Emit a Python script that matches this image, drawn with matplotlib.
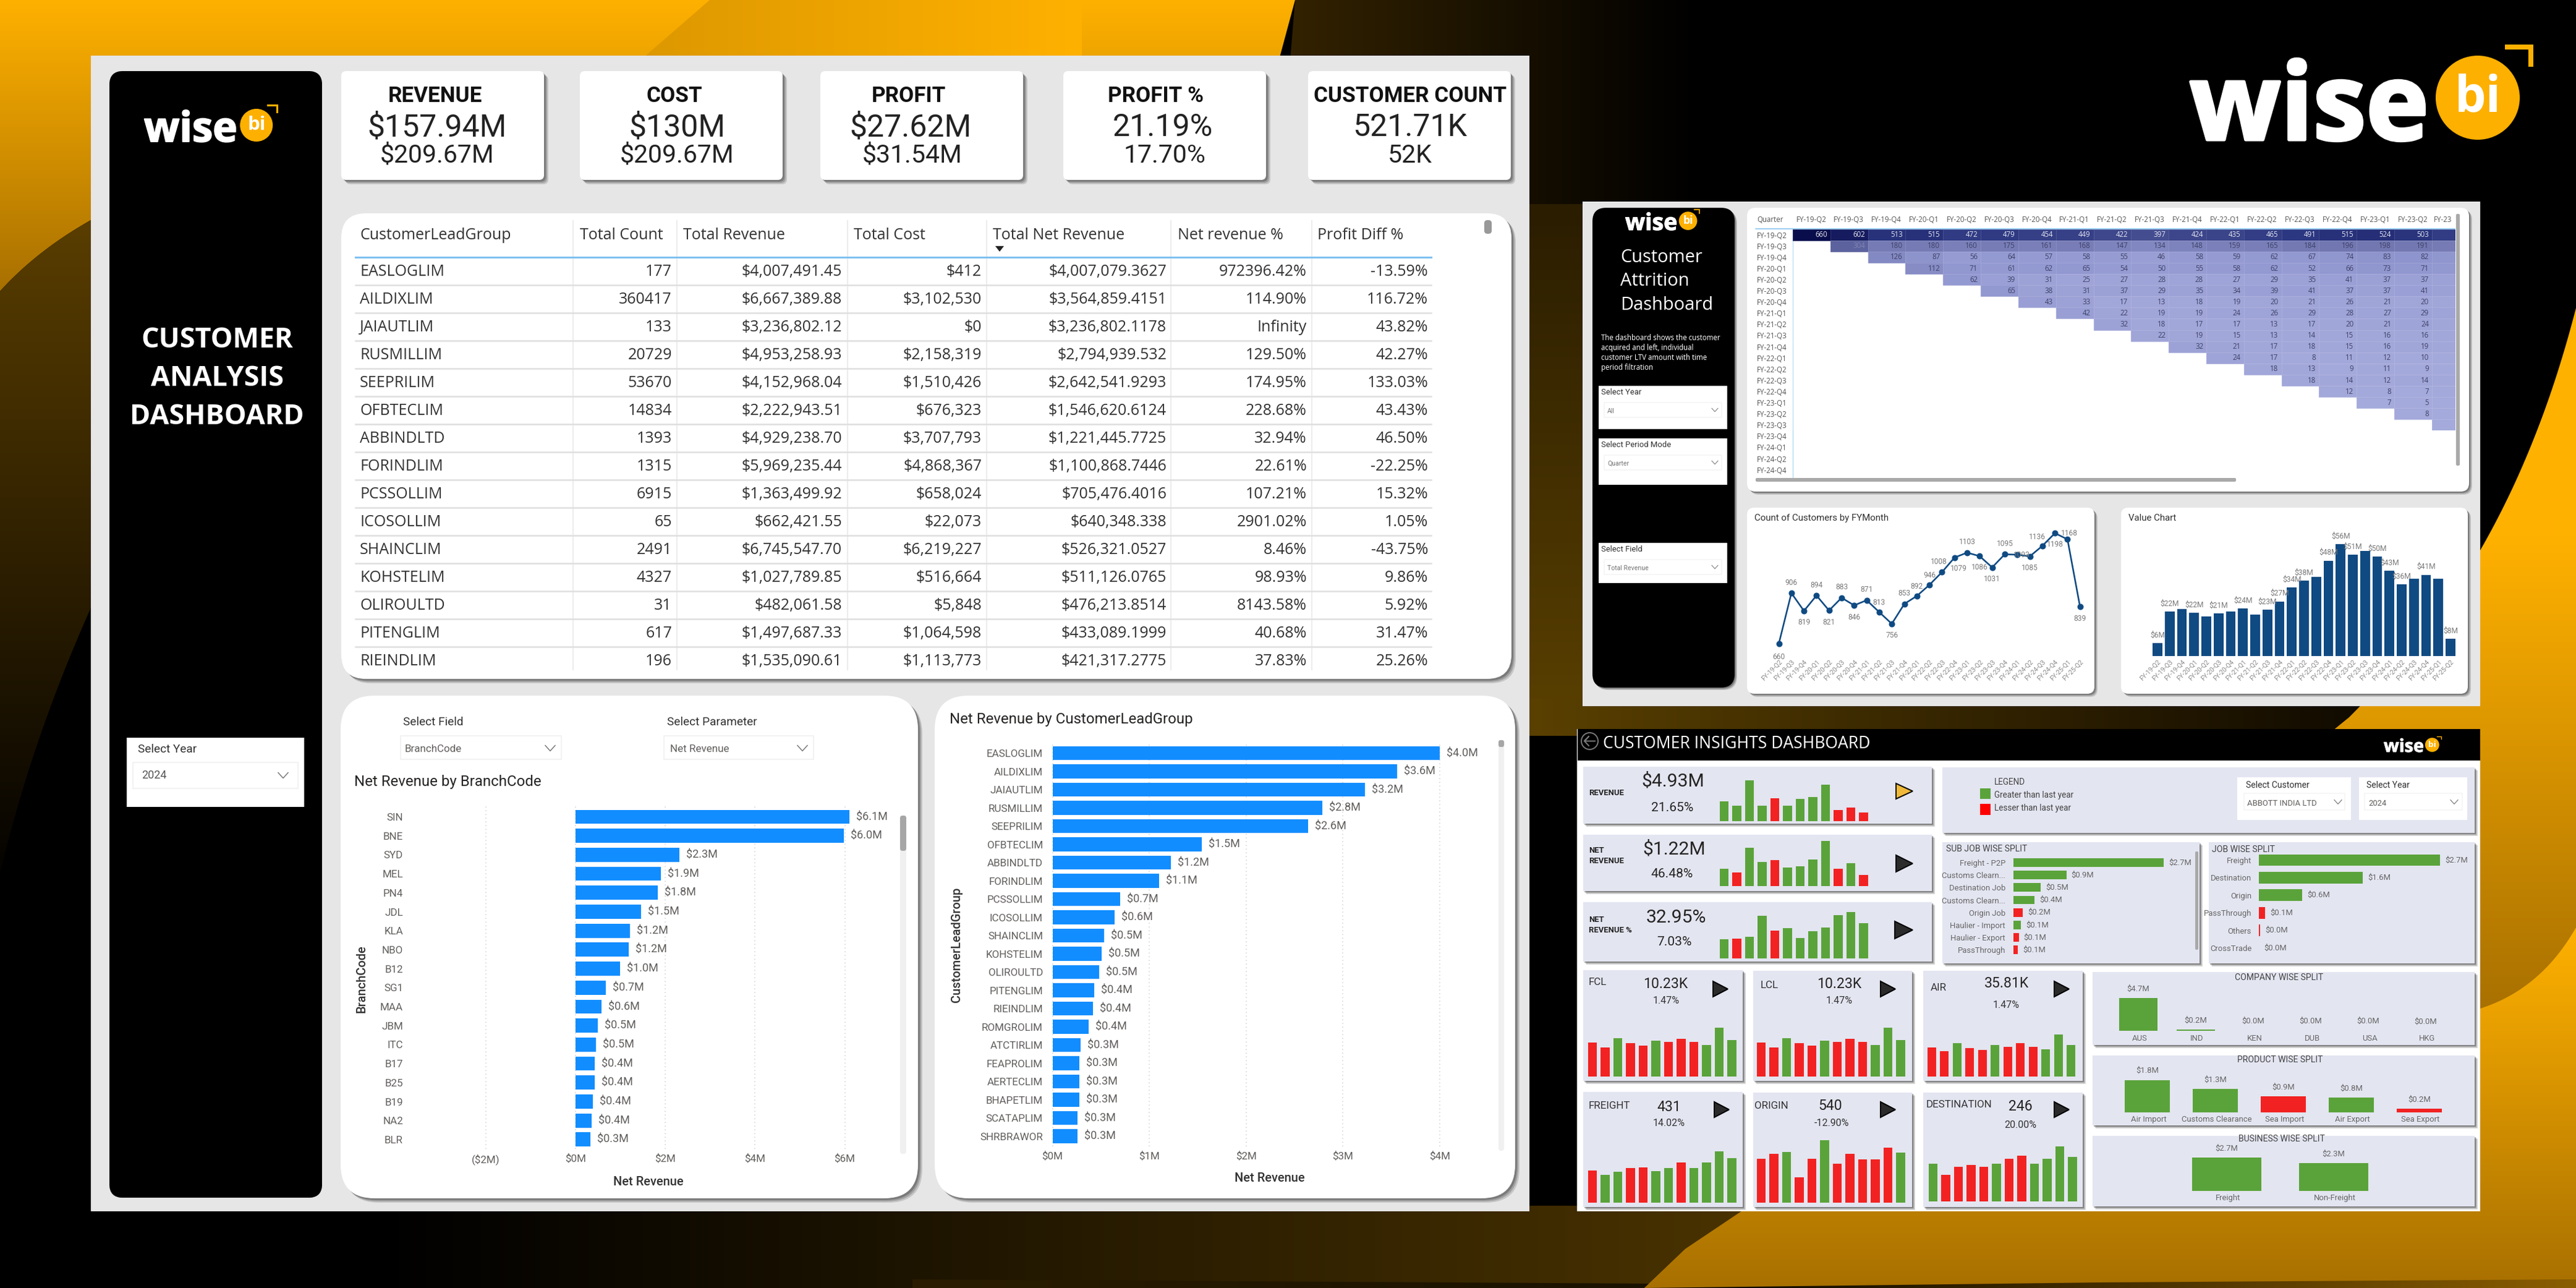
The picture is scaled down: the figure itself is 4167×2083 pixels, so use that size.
import numpy as np
import matplotlib
matplotlib.use("Agg")
import matplotlib.pyplot as plt
import matplotlib.patheffects as pe
from matplotlib.colors import LinearSegmentedColormap, to_rgb
from matplotlib.patches import FancyBboxPatch, Polygon, Circle

W, H = 4167, 2083
plt.rcParams["font.family"] = ["Roboto", "DejaVu Sans"]

# KPI cards
kpi_names = ["REVENUE", "COST", "PROFIT", "PROFIT %", "CUSTOMER COUNT"]
kpi_now = ["$157.94M", "$130M", "$27.62M", "21.19%", "521.71K"]
kpi_prev = ["$209.67M", "$209.67M", "$31.54M", "17.70%", "52K"]

# table
table_heads = ["CustomerLeadGroup", "Total Count", "Total Revenue", "Total Cost",
               "Total Net Revenue", "Net revenue %", "Profit Diff %"]
lead_groups = ["EASLOGLIM", "AILDIXLIM", "JAIAUTLIM", "RUSMILLIM", "SEEPRILIM", "OFBTECLIM",
               "ABBINDLTD", "FORINDLIM", "PCSSOLLIM", "ICOSOLLIM", "SHAINCLIM", "KOHSTELIM",
               "OLIROULTD", "PITENGLIM", "RIEINDLIM"]
total_count = ["177", "360417", "133", "20729", "53670", "14834", "1393", "1315", "6915", "65",
               "2491", "4327", "31", "617", "196"]
total_revenue = ["$4,007,491.45", "$6,667,389.88", "$3,236,802.12", "$4,953,258.93", "$4,152,968.04",
                 "$2,222,943.51", "$4,929,238.70", "$5,969,235.44", "$1,363,499.92", "$662,421.55",
                 "$6,745,547.70", "$1,027,789.85", "$482,061.58", "$1,497,687.33", "$1,535,090.61"]
total_cost = ["$412", "$3,102,530", "$0", "$2,158,319", "$1,510,426", "$676,323", "$3,707,793",
              "$4,868,367", "$658,024", "$22,073", "$6,219,227", "$516,664", "$5,848", "$1,064,598",
              "$1,113,773"]
total_net = ["$4,007,079.3627", "$3,564,859.4151", "$3,236,802.1178", "$2,794,939.532", "$2,642,541.9293",
             "$1,546,620.6124", "$1,221,445.7725", "$1,100,868.7446", "$705,476.4016", "$640,348.338",
             "$526,321.0527", "$511,126.0765", "$476,213.8514", "$433,089.1999", "$421,317.2775"]
net_pct = ["972396.42%", "114.90%", "Infinity", "129.50%", "174.95%", "228.68%", "32.94%", "22.61%",
           "107.21%", "2901.02%", "8.46%", "98.93%", "8143.58%", "40.68%", "37.83%"]
profit_diff = ["-13.59%", "116.72%", "43.82%", "42.27%", "133.03%", "43.43%", "46.50%", "-22.25%",
               "15.32%", "1.05%", "-43.75%", "9.86%", "5.92%", "31.47%", "25.26%"]

# net revenue bars
branch_codes = ["SIN", "BNE", "SYD", "MEL", "PN4", "JDL", "KLA", "NBO", "B12", "SG1", "MAA", "JBM",
                "ITC", "B17", "B25", "B19", "NA2", "BLR"]
branch_rev = [6.10, 5.98, 2.31, 1.90, 1.83, 1.46, 1.21, 1.18, 0.99, 0.68, 0.58, 0.49, 0.45, 0.43,
              0.43, 0.38, 0.36, 0.33]
group_names = lead_groups + ["ROMGROLIM", "ATCTIRLIM", "FEAPROLIM", "AERTECLIM", "BHAPETLIM",
                             "SCATAPLIM", "SHRBRAWOR"]
group_rev = [4.00, 3.56, 3.23, 2.79, 2.64, 1.54, 1.22, 1.10, 0.70, 0.64, 0.53, 0.51, 0.48, 0.43,
             0.42, 0.375, 0.29, 0.28, 0.28, 0.28, 0.26, 0.26]

# attrition cohort table
quarters = ["FY-19-Q2", "FY-19-Q3", "FY-19-Q4", "FY-20-Q1", "FY-20-Q2", "FY-20-Q3", "FY-20-Q4",
            "FY-21-Q1", "FY-21-Q2", "FY-21-Q3", "FY-21-Q4", "FY-22-Q1", "FY-22-Q2", "FY-22-Q3",
            "FY-22-Q4", "FY-23-Q1", "FY-23-Q2", "FY-23-Q3", "FY-23-Q4", "FY-24-Q1", "FY-24-Q2",
            "FY-24-Q4"]
cohort_rows = [
    [660, 602, 513, 515, 472, 479, 454, 449, 422, 397, 424, 435, 465, 491, 515, 524, 503, 470],
    [304, 180, 180, 160, 175, 161, 168, 147, 134, 148, 159, 165, 184, 196, 198, 191, 180],
    [126, 87, 56, 64, 57, 58, 55, 46, 58, 59, 62, 67, 74, 83, 82, 75],
    [112, 71, 61, 62, 65, 54, 50, 55, 58, 62, 52, 66, 73, 71, 65],
    [62, 39, 31, 25, 27, 28, 28, 27, 29, 35, 41, 37, 37, 35],
    [65, 38, 31, 37, 29, 35, 34, 39, 41, 37, 37, 41, 38],
    [43, 33, 17, 13, 18, 19, 20, 21, 26, 21, 20, 20],
    [42, 22, 19, 19, 24, 26, 29, 28, 27, 29, 27],
    [32, 18, 17, 17, 13, 17, 20, 21, 24, 20],
    [22, 19, 15, 13, 14, 15, 16, 16, 15],
    [32, 21, 17, 18, 15, 16, 19, 16],
    [24, 17, 8, 11, 12, 10, 10],
    [18, 13, 9, 11, 9, 9],
    [18, 14, 12, 14, 12],
    [12, 8, 7, 8],
    [7, 5, 6],
    [8, 6],
    [7],
]

# customers line and value bars
fy_quarters = ["FY-19-Q2", "FY-19-Q3", "FY-19-Q4", "FY-20-Q1", "FY-20-Q2", "FY-20-Q3", "FY-20-Q4",
               "FY-21-Q1", "FY-21-Q2", "FY-21-Q3", "FY-21-Q4", "FY-22-Q1", "FY-22-Q2", "FY-22-Q3",
               "FY-22-Q4", "FY-23-Q1", "FY-23-Q2", "FY-23-Q3", "FY-23-Q4", "FY-24-Q1", "FY-24-Q2",
               "FY-24-Q3", "FY-24-Q4", "FY-25-Q1", "FY-25-Q2"]
customer_count = [660, 906, 819, 894, 821, 883, 846, 871, 813, 756, 853, 892, 946, 1008, 1079, 1103,
                  1086, 1031, 1095, 1093, 1085, 1136, 1198, 1168, 839]
value_chart = [6.3, 22.1, 23.3, 21.5, 19.7, 21.2, 22.1, 23.7, 20.7, 23.1, 27.3, 34.3, 37.6, 39.6,
               47.7, 56.0, 50.6, 52.6, 49.8, 42.6, 35.7, 38.6, 40.6, 38.6, 8.5]
value_labelled = [0, 1, 3, 5, 7, 9, 10, 11, 12, 14, 15, 16, 18, 19, 20, 22, 24]

# insights small bars, bar heights are relative, 1 = last year green, 0 = red
revenue_bars = [63, 49, 129, 49, 72, 49, 70, 76, 115, 36, 44, 27]
revenue_up = [1, 1, 1, 1, 0, 1, 1, 1, 1, 0, 0, 0]
net_bars = [54, 44, 121, 76, 82, 59, 62, 84, 143, 54, 72, 35]
net_up = [1, 0, 1, 1, 0, 1, 1, 1, 1, 0, 1, 0]
netpct_bars = [62, 64, 69, 136, 89, 97, 65, 87, 99, 138, 148, 112]
netpct_up = [1, 0, 1, 1, 0, 1, 1, 1, 1, 1, 1, 1]
fcl_bars = [107, 93, 121, 105, 98, 113, 110, 120, 109, 100, 155, 115]
fcl_up = [0, 0, 1, 0, 0, 1, 0, 0, 0, 1, 1, 1]
air_bars = [93, 81, 106, 91, 85, 99, 95, 105, 95, 87, 134, 100]
freight_bars = [103, 89, 99, 111, 113, 101, 111, 128, 111, 128, 163, 142]
freight_up = [0, 1, 1, 0, 0, 1, 1, 0, 1, 1, 1, 1]
origin_bars = [141, 156, 161, 81, 141, 198, 124, 156, 138, 138, 175, 159]
origin_up = [0, 0, 1, 0, 0, 1, 0, 0, 0, 0, 0, 1]
dest_bars = [120, 86, 110, 117, 110, 120, 136, 146, 120, 136, 175, 143]
dest_up = [1, 0, 0, 0, 0, 1, 0, 0, 1, 1, 1, 1]

# insights splits
subjob_names = ["Freight - P2P", "Customs Clearn...", "Destination Job", "Customs Clearn...",
                "Origin Job", "Haulier - Import", "Haulier - Export", "PassThrough"]
subjob_vals = [2.70, 0.95, 0.49, 0.376, 0.166, 0.134, 0.096, 0.083]
subjob_up = [1, 1, 1, 1, 0, 1, 0, 0]
job_names = ["Freight", "Destination", "Origin", "PassThrough", "Others", "CrossTrade"]
job_vals = [2.70, 1.55, 0.64, 0.09, 0.016, 0.0]
job_up = [1, 1, 1, 0, 0, 1]
company_names = ["AUS", "IND", "KEN", "DUB", "USA", "HKG"]
company_vals = [4.7, 0.18, 0.04, 0.03, 0.03, 0.0]
company_up = [1, 1, 1, 1, 0, 1]
product_names = ["Air Import", "Customs Clearance", "Sea Import", "Air Export", "Sea Export"]
product_vals = [1.8, 1.3, 0.87, 0.8, 0.18]
product_up = [1, 1, 0, 1, 0]
business_names = ["Freight", "Non-Freight"]
business_vals = [2.7, 2.26]
business_up = [1, 1]

GREEN = "#5aa33a"
RED = "#f22222"
BLUE = "#118dff"
NAVY = "#0f4a82"
CARD = "#e3e5f1"
GREY = "#605e5c"
DARK = "#252423"

fig = plt.figure(figsize=((W + 0.01) / 72, (H + 0.01) / 72), dpi=72, facecolor="black")
bg = fig.add_axes([0, 0, 1, 1])
bg.axis("off")


def px_axes(x0, y0, x1, y1):
    ax = fig.add_axes([x0 / W, 1 - y1 / H, (x1 - x0) / W, (y1 - y0) / H])
    ax.patch.set_alpha(0)
    for s in ax.spines.values():
        s.set_visible(False)
    return ax


def bezier(p0, p1, p2, n=40):
    t = np.linspace(0, 1, n)[:, None]
    return (1 - t) ** 2 * np.array(p0) + 2 * t * (1 - t) * np.array(p1) + t ** 2 * np.array(p2)


def grad_fill(points, c0, c1, vertical=True, span=None):
    points = np.vstack([np.atleast_2d(p) for p in points]).astype(float)
    x0, y0 = points.min(axis=0)
    x1, y1 = points.max(axis=0)
    lo, hi = (y0, y1) if vertical else (x0, x1)
    pos = np.linspace(lo, hi, 512)
    a, b = span if span else (lo, hi)
    steps = np.clip((pos - a) / (b - a), 0, 1)[:, None]
    colors = (1 - steps) * np.array(to_rgb(c0)) + steps * np.array(to_rgb(c1))
    img = colors[:, None, :] if vertical else colors[None, :, :]
    im = bg.imshow(img, extent=(x0, x1, y1, y0), aspect="auto", zorder=0, interpolation="bilinear")
    im.set_clip_path(Polygon(points, closed=True, transform=bg.transData))


def box(x0, y0, x1, y1, color="white", r=0, edge="none", lw=0, z=2):
    p = FancyBboxPatch((x0, y0), x1 - x0, y1 - y0, boxstyle=f"round,pad=0,rounding_size={r}",
                       fc=color, ec=edge, lw=lw, zorder=z)
    bg.add_patch(p)


def panel(x0, y0, x1, y1, color="white", r=0, sh=7, z=2):
    for k, a in ((1.0, 0.18), (0.7, 0.25), (0.4, 0.35)):
        p = FancyBboxPatch((x0 + sh * k, y0 + sh * k), x1 - x0, y1 - y0,
                           boxstyle=f"round,pad=0,rounding_size={r}", fc="#333333", ec="none",
                           alpha=a, zorder=z)
        bg.add_patch(p)
    box(x0, y0, x1, y1, color, r, z=z)


def txt(x, y, s, size, color=DARK, ha="left", va="center", weight="normal", family=None, rot=0):
    kw = {}
    if family:
        kw["family"] = family
    bg.text(x, y, s, fontsize=size, color=color, ha=ha, va=va, fontweight=weight, rotation=rot,
            zorder=6, **kw)


def chevron(x, y, s=8, color="#777777", lw=1.5):
    bg.plot([x - s, x, x + s], [y - s * 0.55, y + s * 0.55, y - s * 0.55], color=color, lw=lw, zorder=6)


def triangle(x0, y0, x1, y1, color="#2b2b2b"):
    bg.add_patch(Polygon([(x0, y0), (x1, (y0 + y1) / 2), (x0, y1)], closed=True, fc=color,
                         ec="black", lw=2, zorder=6))


def logo(x, ybase, s):
    t = bg.text(x, ybase, "wise", fontsize=172 * s, color="white", fontweight="bold", family="Open Sans",
                ha="left", va="baseline", zorder=6)
    t.set_path_effects([pe.withStroke(linewidth=5 * s, foreground="white")])
    cx, cy = x + 466 * s, ybase - 68 * s
    bg.add_patch(Circle((cx, cy), 68 * s, fc="#fdb000", ec="none", zorder=6))
    bg.plot([cx + 48 * s, cx + 86 * s, cx + 86 * s], [cy - 82 * s, cy - 82 * s, cy - 54 * s],
            color="#fdb000", lw=max(1, 8 * s), zorder=6, solid_joinstyle="miter")
    bg.text(cx, cy, "bi", fontsize=80 * s, color="white", fontweight="bold", family="Open Sans",
            ha="center", va="center", zorder=7)


# background shapes
left_edge = bezier((147, 356), (60, 405), (0, 471))
grad_fill([[(0, 0), (2095, 0), (2068, 100), (2068, 360)], left_edge], "#ffb100", "#a87000")
grad_fill([[(1148, 0), (1750, 0), (1750, 100), (1033, 100)]], "#dd9800", "#ffb100", vertical=False)
grad_fill([left_edge, bezier((0, 1414), (50, 1200), (147, 983))], "#5a3e00", "#050300")
grad_fill([[(2095, 0), (2750, 0), (2750, 330), (2068, 330)]], "#342300", "#000000", vertical=False)
grad_fill([[(2474, 330), (2561, 330), (2561, 1180), (2474, 1180)]], "#2a1d00", "#5a4000")
grad_fill([[(2474, 1130), (3830, 1130), (3830, 1190), (2474, 1190)]], "#5a4000", "#100a00", vertical=False)
grad_fill([[(600, 1950), (2840, 1950), (2840, 2083), (600, 2083)]], "#000000", "#4a3300", vertical=False)
grad_fill([[(1476, 2069), (2680, 2076), (2680, 2083), (1476, 2083)]], "#2a1d00", "#1a1200", vertical=False)
gold_edge = [(2660, 2083), (2726, 2020), (2817, 1959), (3800, 1160)]
grad_fill([gold_edge, bezier((3800, 1160), (3930, 1030), (4012, 890)), bezier((4012, 890), (4110, 720), (4167, 498)),
           [(4167, 1700), (2900, 2083)]], "#ffb100", "#a87000", span=(870, 1640))
grad_fill([gold_edge[:3], [(2950, 1780), (4012, 1631)], bezier((4012, 1631), (4110, 1600), (4167, 1500)), [(4167, 2083)]],
          "#ffb100", "#a87000")
grad_fill([[(2660, 2083), (3400, 2074), (4167, 2069), (4167, 2083)]], "#000000", "#8a5d00", vertical=False)
bg.set_xlim(0, W)
bg.set_ylim(H, 0)
logo(3542, 226, 1.0)

# main dashboard
box(147, 90, 2474, 1959, "#e6e6e6", z=1)
panel(177, 115, 521, 1937, "black", r=22, sh=0)
logo(233, 229, 0.39)
for y, s in zip((550, 612, 674), ("CUSTOMER", "ANALYSIS", "DASHBOARD")):
    txt(351, y, s, 45, "white", ha="center", weight="bold", family="Open Sans")
box(205, 1193, 492, 1305, "white")
txt(223, 1212, "Select Year", 19, "#333333")
box(215, 1233, 482, 1275, "white", edge="#eeeeee", lw=1.5)
txt(229, 1254, "2024", 18, "#555555")
chevron(458, 1254)

card_left = [552, 938, 1327, 1720, 2116]
name_x = [704, 1091, 1470, 1869, 2281]
now_x = [707, 1095, 1473, 1881, 2281]
prev_x = [707, 1095, 1476, 1884, 2281]
for i in range(5):
    panel(card_left[i], 115, card_left[i] + 328, 291, "white", r=8)
    txt(name_x[i], 155, kpi_names[i], 35, "#111111", ha="center", weight="bold")
    txt(now_x[i], 206, kpi_now[i], 50, "#222222", ha="center")
    txt(prev_x[i], 251, kpi_prev[i], 41, "#222222", ha="center")

# table panel
panel(552, 345, 2445, 1098, "white", r=40)
col_sep = [927, 1095, 1371, 1596, 1894, 2122]
head_x = [582, 938, 1105, 1381, 1606, 1905, 2131]
right_x = [1087, 1362, 1588, 1887, 2114, 2310]
table_cols = [total_count, total_revenue, total_cost, total_net, net_pct, profit_diff]
for x, s in zip(head_x, table_heads):
    txt(x, 380, s, 25, "#333333", family="Open Sans")
bg.add_patch(Polygon([(1610, 398), (1624, 398), (1617, 407)], closed=True, fc="#222222", zorder=6))
for x in col_sep:
    bg.plot([x, x], [357, 1083], color="#ececec", lw=2, zorder=4)
bg.plot([575, 2315], [416, 416], color="#7cc0f0", lw=3, zorder=4)
for i, name in enumerate(lead_groups):
    y = 439.5 + i * 45
    txt(582, y, name, 25, "#333333", family="Open Sans")
    for col, rx in zip(table_cols, right_x):
        txt(rx, y, col[i], 25, "#333333", ha="right", family="Open Sans")
    if i < 14:
        bg.plot([575, 2315], [y + 22, y + 22], color="#dfdfdf", lw=2.5, zorder=4)
box(2401, 356, 2413, 378, "#999999", r=5, z=5)

# bars panels
panel(551, 1125, 1485, 1938, "white", r=55)
panel(1512, 1125, 2451, 1938, "white", r=55)
txt(652, 1168, "Select Field", 19, "#333333")
box(648, 1190, 908, 1228, "white", edge="#eeeeee", lw=1.5)
txt(655, 1211, "BranchCode", 17, GREY)
chevron(890, 1210)
txt(1079, 1168, "Select Parameter", 19, "#333333")
box(1074, 1190, 1316, 1228, "white", edge="#eeeeee", lw=1.5)
txt(1084, 1211, "Net Revenue", 17, GREY)
chevron(1298, 1210)
txt(573, 1264, "Net Revenue by BranchCode", 24, DARK)
txt(1536, 1163, "Net Revenue by CustomerLeadGroup", 24, DARK)
box(1456, 1319, 1466, 1866, "#f0f0f0", r=4, z=4)
box(1456, 1319, 1466, 1376, "#a6a6a6", r=4, z=5)
box(2424, 1197, 2433, 1861, "#f0f0f0", r=4, z=4)
box(2424, 1197, 2433, 1208, "#a6a6a6", r=3, z=5)


def revenue_bars_chart(names, vals, ticks, xpx0, ppm, xl, xr, top, bottom, first, pitch, tick_fmt, lab_size):
    ax = px_axes(xl, top, xr, bottom)
    ax.set_xlim((xl - xpx0) / ppm, (xr - xpx0) / ppm)
    ax.set_ylim((bottom - first) / pitch, (top - first) / pitch)
    pos = np.arange(len(names))
    ax.barh(pos, vals, height=22.8 / pitch, color=BLUE, zorder=3)
    ax.set_yticks(pos, names)
    ax.set_xticks(ticks, [tick_fmt(t) for t in ticks])
    ax.grid(axis="x", color="#cfcfcf", linestyle=(0, (1, 3)), lw=1.5, zorder=0)
    ax.tick_params(length=0, labelsize=lab_size, labelcolor=GREY, pad=8)
    for p, v in zip(pos, vals):
        ax.annotate(f"${v:.1f}M", (v, p), xytext=(11, 0), textcoords="offset points", va="center",
                    fontsize=lab_size + 1, color=GREY)
    return ax


def money_tick(t):
    return f"(${-t}M)" if t < 0 else f"${t}M"


revenue_bars_chart(branch_codes, branch_rev, [-2, 0, 2, 4, 6], 931, 72.6, 660, 1450, 1301, 1858,
                   1321, 30.7, money_tick, 17)
txt(1049, 1911, "Net Revenue", 20, "#333333", ha="center", weight="medium")
txt(585, 1583, "BranchCode", 20, "#333333", ha="center", weight="medium", rot=90)
revenue_bars_chart(group_names, group_rev, [0, 1, 2, 3, 4], 1702.5, 156.6, 1695, 2415, 1202, 1854,
                   1218, 29.5, money_tick, 17)
txt(2054, 1905, "Net Revenue", 20, "#333333", ha="center", weight="medium")
txt(1547, 1528, "CustomerLeadGroup", 20, "#333333", ha="center", weight="medium", rot=90)

# attrition dashboard
box(2560, 326, 4012, 1142, "#e6e6e6", z=1)
panel(2576, 336, 2806, 1112, "black", r=22, sh=4)
logo(2629, 372, 0.218)
for y, s in zip((416, 454, 493), ("Customer", "Attrition", "Dashboard")):
    txt(2621, y, s, 29, "white", family="Open Sans")
desc_lines = ["The dashboard shows the customer", "acquired and left, individual",
              "customer LTV amount with time", "period filtration"]
for y, s in zip((546, 562, 578, 594), desc_lines):
    txt(2590, y, s, 11.5, "white", family="Open Sans")
for (y0, y1, lab, dy0, dy1, val) in ((624, 694, "Select Year", 651, 675, "All"),
                                     (709, 784, "Select Period Mode", 736, 760, "Quarter"),
                                     (878, 943, "Select Field", 905, 929, "Total Revenue")):
    box(2586, y0, 2794, y1, "white")
    txt(2590, y0 + 10, lab, 13, "#333333")
    box(2595, dy0, 2785, dy1, "white", edge="#eeeeee", lw=1)
    txt(2600, (dy0 + dy1) / 2 + 2, val, 10.5, "#777777")
    chevron(2774, (dy0 + dy1) / 2, s=5, lw=1)

panel(2826, 336, 3994, 795, "white", r=14, sh=5)
panel(2826, 821, 3388, 1122, "white", r=12, sh=5)
panel(3431, 821, 3992, 1122, "white", r=12, sh=5)
txt(2842, 355, "Quarter", 11.5, "#555555", family="Open Sans")
for i in range(18):
    x = 2930 + 60.8 * i
    if i < 17:
        txt(x, 355, quarters[i], 11.5, "#555555", ha="center", family="Open Sans")
    else:
        txt(x - 27, 355, "FY-23", 11.5, "#555555", family="Open Sans")
for i, q in enumerate(quarters):
    txt(2842, 381 + 18.1 * i, q, 11.5, "#555555", family="Open Sans")

cohort = np.full((len(cohort_rows), 18), np.nan)
for r, row in enumerate(cohort_rows):
    cohort[r, r:r + len(row)] = row
cohort_cmap = LinearSegmentedColormap.from_list(
    "cohort", [(0, "#a6abdc"), (0.1, "#9298d0"), (0.28, "#7479b3"), (0.46, "#5c629e"), (0.75, "#2b3680"), (1, "#090d4c")])
hm = px_axes(2900, 370.7, 3971.5, 370.7 + 18.1 * len(cohort_rows))
hm.pcolormesh(np.arange(19), np.arange(len(cohort_rows) + 1), np.ma.masked_invalid(cohort), cmap=cohort_cmap,
              vmin=0, vmax=660, edgecolors=(1, 1, 1, 0.12), linewidth=1)
hm.set_xlim(0, 17.62)
hm.set_ylim(len(cohort_rows), 0)
hm.set_xticks([])
hm.set_yticks([])
for r, row in enumerate(cohort_rows):
    for k, v in enumerate(row):
        c = r + k
        if c < 17:
            col = "#e3e4f0" if r == 0 else ("#8084b0" if (r, k) == (1, 0) else "#3d4166")
            hm.text(c + 0.92, r + 0.5, str(v), fontsize=11.5, color=col, ha="right", va="center",
                    family="Open Sans", clip_on=True)
bg.plot([2840, 3971], [370, 370], color="#7cc0f0", lw=1.5, zorder=4)
bg.plot([2900, 2900], [370, 773], color="#a6d4f5", lw=1, zorder=4)
box(3973, 346, 3979, 753, "#a9a9a9", r=2, z=5)
box(2840, 773, 3617, 779, "#a9a9a9", r=2, z=5)

txt(2838, 838, "Count of Customers by FYMonth", 15, "#333333")
txt(3443, 838, "Value Chart", 15, "#333333")

ln = px_axes(2857.2, 845, 3385, 1060.6)
ln.set_xlim(-1, 25)
ln.set_ylim(600, 1250)
ln.plot(range(25), customer_count, color=NAVY, lw=2.6, marker="o", ms=9)
ln.set_yticks([])
ln.set_xticks(range(25), fy_quarters, rotation=45, ha="right", rotation_mode="anchor", fontsize=10.5, color="#8a8a8a")
ln.tick_params(length=0, pad=5)
line_offsets = [-22, 17, -19, 17, -19, 17, -19, 17, 15, -19, 17, 15, 15, 17, -18, 17, -18, -19, 17, 0, -19, 14, -18, 10, -19]
line_dx = [0, 0, 0, 0, 0, 0, 0, 0, 0, 0, 0, 0, 0, -5, 7, 0, 0, 0, 0, 7, 0, -8, 0, 3, 0]
for i, v in enumerate(customer_count):
    ln.annotate(str(v), (i, v), xytext=(line_dx[i], line_offsets[i]), textcoords="offset points", ha="center",
                va="center", fontsize=12, color="#7b7b7b")

vc = px_axes(3470.25, 867, 3983.75, 1060.7)
vc.set_xlim(-1, 25)
vc.set_ylim(0, 60)
vc.bar(range(25), value_chart, width=0.8, color=NAVY)
vc.set_yticks([])
vc.set_xticks(range(25), fy_quarters, rotation=45, ha="right", rotation_mode="anchor", fontsize=10.5, color="#8a8a8a")
vc.tick_params(length=0, pad=5)
for i in value_labelled:
    vc.annotate(f"${value_chart[i]:.0f}M", (i, value_chart[i]), xytext=(0, 13),
                textcoords="offset points", ha="center", va="center", fontsize=12, color="#7b7b7b")

# insights dashboard
box(2551, 1179, 4012, 1959, "white", z=1)
box(2552, 1179, 4012, 1230, "black", z=2)
bg.add_patch(Circle((2571.5, 1198.5), 13.5, fc="none", ec="#777777", lw=2, zorder=6))
bg.plot([2580, 2563, 2570, 2563, 2570], [1198.5, 1198.5, 1191, 1198.5, 1206], color="#777777", lw=2, zorder=6)
txt(2593, 1203, "CUSTOMER INSIGHTS DASHBOARD", 26.5, "white", family="Open Sans")
logo(3856, 1216, 0.168)

for b in ((2561, 1240, 3125, 1332), (2561, 1350, 3125, 1441), (2561, 1459, 3125, 1555),
          (2561, 1569, 2819, 1748), (2836, 1570, 3093, 1748), (3111, 1570, 3369, 1748),
          (2561, 1766, 2819, 1952), (2836, 1767, 3093, 1952), (3111, 1767, 3369, 1952),
          (3142, 1241, 4003, 1347), (3142, 1362, 3558, 1558), (3573, 1362, 4003, 1558),
          (3385, 1572, 4003, 1690), (3385, 1707, 4003, 1820), (3385, 1837, 4003, 1951)):
    panel(*b, CARD, r=0, sh=5)


def mini_bars(heights, ups, center0, base):
    pitch = 20.5
    ax = px_axes(center0 - pitch / 2, base - 110, center0 + pitch * 11.5, base)
    ax.set_xlim(-0.5, 11.5)
    ax.set_ylim(0, 110 * 1.96)
    ax.bar(range(12), heights, width=0.69, color=[GREEN if u else RED for u in ups])
    ax.axis("off")


mini_bars(revenue_bars, revenue_up, 2789, 1328)
mini_bars(net_bars, net_up, 2789, 1433)
mini_bars(netpct_bars, netpct_up, 2789, 1550.5)
mini_bars(fcl_bars, fcl_up, 2576, 1741)
mini_bars(fcl_bars, fcl_up, 2849, 1741)
mini_bars(air_bars, fcl_up, 3124.6, 1741)
mini_bars(freight_bars, freight_up, 2576, 1945.5)
mini_bars(origin_bars, origin_up, 2849, 1945.5)
mini_bars(dest_bars, dest_up, 3127, 1943.5)

txt(2570, 1282, "REVENUE", 13, "#222222", weight="bold")
txt(2570, 1375, "NET", 13, "#222222", weight="bold")
txt(2570, 1392, "REVENUE", 13, "#222222", weight="bold")
txt(2570, 1487, "NET", 13, "#222222", weight="bold")
txt(2570, 1504, "REVENUE %", 13, "#222222", weight="bold")
txt(2706, 1263, "$4.93M", 30, ha="center")
txt(2705, 1306, "21.65%", 21, ha="center")
txt(2708, 1373, "$1.22M", 30, ha="center")
txt(2705, 1413, "46.48%", 21, ha="center")
txt(2711, 1484, "32.95%", 30, ha="center")
txt(2708, 1523, "7.03%", 21, ha="center")
triangle(3067, 1267, 3094, 1292, "#f0b93a")
triangle(3067, 1383, 3094, 1410)
triangle(3065, 1490, 3094, 1518)

small_cards = [("FCL", 2570, 1588, "10.23K", 2694, 1591, "1.47%", 2695, 1618),
               ("LCL", 2848, 1593, "10.23K", 2975, 1591, "1.47%", 2975, 1618),
               ("AIR", 3123, 1597, "35.81K", 3246, 1590, "1.47%", 3245, 1625),
               ("FREIGHT", 2570, 1788, "431", 2700, 1790, "14.02%", 2700, 1816),
               ("ORIGIN", 2838, 1788, "540", 2961, 1788, "-12.90%", 2963, 1816),
               ("DESTINATION", 3116, 1786, "246", 3268, 1789, "20.00%", 3268, 1819)]
for name, nx, ny, val, vx, vy, pct, px, py in small_cards:
    txt(nx, ny, name, 17, "#333333")
    txt(vx, vy, val, 23, ha="center")
    txt(px, py, pct, 16, "#333333", ha="center")
for x0, y0 in ((2771, 1587), (3042, 1587), (3323, 1587), (2773, 1782), (3042, 1782), (3323, 1782)):
    triangle(x0, y0, x0 + 24, y0 + 25)

txt(3226, 1265, "LEGEND", 13.5, "#444444")
box(3203, 1275, 3220, 1292, GREEN, z=5)
txt(3226, 1286, "Greater than last year", 13.5, "#444444")
box(3203, 1300, 3220, 1318, "#ff0000", z=5)
txt(3226, 1307, "Lesser than last year", 13.5, "#444444")
box(3619, 1257, 3803, 1326, "white", z=4)
txt(3633, 1270, "Select Customer", 14, "#333333")
box(3630, 1283, 3793, 1310, "white", edge="#eeeeee", lw=1, z=4)
txt(3635, 1299, "ABBOTT INDIA LTD", 13, GREY)
chevron(3782, 1297, s=6, lw=1.2)
box(3816, 1257, 3991, 1326, "white", z=4)
txt(3828, 1270, "Select Year", 14, "#333333")
box(3825, 1283, 3983, 1310, "white", edge="#eeeeee", lw=1, z=4)
txt(3831, 1299, "2024", 13, GREY)
chevron(3970, 1297, s=6, lw=1.2)


def split_barh(names, vals, ups, x0, ppm, xl, xr, first, pitch, bar_h, size):
    top, bottom = first - pitch / 2, first + pitch * (len(names) - 0.5)
    ax = px_axes(xl, top, xr, bottom)
    ax.set_xlim((xl - x0) / ppm, (xr - x0) / ppm)
    ax.set_ylim(len(names) - 0.5, -0.5)
    ax.barh(range(len(names)), vals, height=bar_h / pitch, color=[GREEN if u else RED for u in ups])
    ax.set_yticks(range(len(names)), names)
    ax.set_xticks([])
    ax.tick_params(length=0, labelsize=size, labelcolor="#666666", pad=8)
    for i, v in enumerate(vals):
        ax.annotate(f"${v:.1f}M", (v, i), xytext=(8, 0), textcoords="offset points", va="center",
                    fontsize=size, color="#666666")


txt(3148, 1372.5, "SUB JOB WISE SPLIT", 14, "#444444")
txt(3577.5, 1373.6, "JOB WISE SPLIT", 14, "#444444")
split_barh(subjob_names, subjob_vals, subjob_up, 3257, 90.1, 3252, 3548, 1395, 20.2, 13.8, 13)
split_barh(job_names, job_vals, job_up, 3654.4, 108.4, 3650, 3998, 1391, 28.4, 18.9, 13)
box(3551, 1377, 3556, 1536, "#a9a9a9", r=2, z=5)


def split_col(title, tx, ty, names, vals, ups, first, pitch, bar_w, base, ppm, label_y):
    ax = px_axes(first - pitch / 2, base - 75, first + pitch * (len(names) - 0.5), base)
    ax.set_xlim(-0.5, len(names) - 0.5)
    ax.set_ylim(0, 75 / ppm)
    ax.bar(range(len(names)), vals, width=bar_w / pitch, color=[GREEN if u else RED for u in ups])
    ax.set_yticks([])
    ax.set_xticks([])
    txt(tx, ty, title, 14, "#444444", ha="center")
    for i, n in enumerate(names):
        txt(first + pitch * i + 2, label_y, n, 13, "#666666", ha="center")
        bg.text(first + pitch * i, base - vals[i] * ppm - 15, f"${vals[i]:.1f}M", fontsize=13, color="#666666",
                ha="center", va="center", zorder=6)


split_col("COMPANY WISE SPLIT", 3687, 1581, company_names, company_vals, company_up, 3459, 93, 62, 1667, 11.2, 1679)
split_col("PRODUCT WISE SPLIT", 3688, 1714, product_names, product_vals, product_up, 3473.6, 110, 73, 1798.6, 28.9, 1810)
split_col("BUSINESS WISE SPLIT", 3690.6, 1841.5, business_names, business_vals, business_up, 3602, 173, 112, 1925.6, 19.7, 1937)

fig.savefig("out.png", dpi=72, facecolor="black")
